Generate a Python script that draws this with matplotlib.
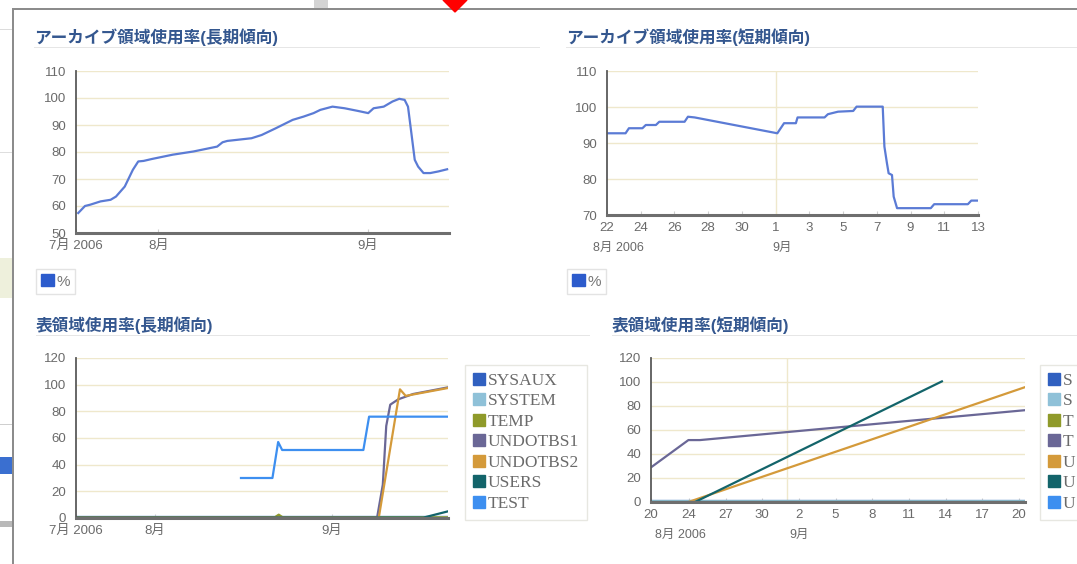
import matplotlib.pyplot as plt
from matplotlib.patches import Rectangle, Polygon, Patch
from matplotlib.transforms import blended_transform_factory

plt.rcParams['font.family'] = ['Liberation Sans', 'Noto Sans CJK JP']

W, H = 1077, 564

# x は 2006-07-01 からの日数 (8/1 = 31, 9/1 = 62)
# アーカイブ領域使用率（長期傾向）
arch_long_day = [19.1, 20.1, 20.9, 22.4, 23.9, 24.7, 26.0, 27.2, 28.0, 28.8, 30.0,
                 33.1, 36.2, 39.7, 40.5, 41.2, 44.8, 46.3, 48.4, 50.9, 52.5, 54.0,
                 55.0, 56.8, 58.6, 60.6, 62.1, 62.9, 64.4, 65.7, 66.7, 67.5, 68.0,
                 68.5, 69.0, 69.5, 70.3, 71.3, 72.5, 73.8]
arch_long_pct = [57.4, 60.0, 60.5, 61.7, 62.3, 63.5, 67.2, 73.4, 76.5, 76.7, 77.4,
                 79.0, 80.2, 82.0, 83.6, 84.1, 85.1, 86.3, 88.8, 91.9, 93.1, 94.4,
                 95.6, 96.8, 96.2, 95.2, 94.4, 96.2, 96.8, 98.7, 99.7, 99.3, 96.8,
                 87.0, 77.1, 74.6, 72.2, 72.2, 72.8, 73.6]

# アーカイブ領域使用率（短期傾向）
arch_short_day = [52.0, 53.1, 53.3, 54.1, 54.3, 54.9, 55.1, 56.6, 56.8, 57.2, 62.1,
                  62.3, 62.5, 63.2, 63.3, 64.9, 65.1, 65.7, 66.6, 66.8, 68.35, 68.45,
                  68.6, 68.7, 68.9, 69.0, 69.2, 71.2, 71.4, 73.4, 73.6, 74.0]
arch_short_pct = [92.7, 92.7, 94.1, 94.1, 95.0, 95.0, 95.9, 95.9, 97.3, 97.1, 92.7,
                  94.1, 95.5, 95.5, 97.1, 97.1, 98.0, 98.7, 98.9, 100.1, 100.1, 89.0,
                  84.4, 81.6, 81.1, 75.1, 71.9, 71.9, 73.0, 73.0, 74.0, 74.0]

ts_names = ['SYSAUX', 'SYSTEM', 'TEMP', 'UNDOTBS1', 'UNDOTBS2', 'USERS', 'TEST']
ts_colors = ['#3060c0', '#8fc1d8', '#8f9a2a', '#6a6796', '#d49a3a', '#13646a', '#3d8ff0']
# 右下の凡例は画面の端で切れていて頭文字しか見えない
ts_short_legend = ['S', 'S', 'T', 'T', 'U', 'U', 'U']

# 表領域使用率（長期傾向）
ts_long = {
    'SYSAUX':   ([17.25, 82.3], [1.0, 1.0]),
    'SYSTEM':   ([17.25, 82.3], [0.7, 0.7]),
    'TEMP':     ([17.25, 52.0, 52.7, 53.4, 82.3], [0.5, 0.5, 2.5, 0.5, 0.5]),
    'UNDOTBS1': ([17.25, 69.9, 70.9, 71.5, 72.2, 73.6, 76.2, 82.3],
                 [0.3, 0.3, 25, 69, 85, 89, 93, 98]),
    'UNDOTBS2': ([17.25, 70.2, 73.9, 74.9, 82.3], [0.3, 0.3, 96.5, 91.6, 97.5]),
    'USERS':    ([17.25, 78.0, 82.3], [0.3, 0.3, 5.0]),
    'TEST':     ([46.1, 51.6, 52.6, 53.3, 67.5, 68.5, 82.3],
                 [30, 30, 57, 51, 51, 76, 76]),
}

# 表領域使用率（短期傾向）
ts_short = {
    'SYSAUX':   ([50.9, 81.5], [0.9, 0.9]),
    'SYSTEM':   ([50.9, 81.5], [0.6, 0.6]),
    'TEMP':     ([50.9, 81.5], [0.4, 0.4]),
    'UNDOTBS1': ([50.96, 53.96, 54.9, 81.5], [29.3, 51.6, 51.6, 76.5]),
    'UNDOTBS2': ([53.96, 81.5], [0.0, 95.7]),
    'USERS':    ([54.5, 74.7], [0.0, 100.5]),
    'TEST':     ([50.9, 81.5], [0.2, 0.2]),
}

long_ticks_a = [18.77, 31, 62]
long_ticks_b = [17.25, 31, 62]
long_labels = ['7月 2006', '8月', '9月']
short_ticks_a = [52, 54, 56, 58, 60, 62, 64, 66, 68, 70, 72, 74]
short_labels_a = ['22', '24', '26', '28', '30', '1', '3', '5', '7', '9', '11', '13']
short_ticks_b = [50.9, 54, 57, 60, 63, 66, 69, 72, 75, 78, 81]
short_labels_b = ['20', '24', '27', '30', '2', '5', '8', '11', '14', '17', '20']

TITLE_C = '#34578f'
TICK_C = '#6a6a6a'
GRID_C = '#efe8cc'

fig = plt.figure(figsize=(W / 100, H / 100), dpi=100)


def px_axes(x0, y0, x1, y1):
    return fig.add_axes([x0 / W, 1 - y1 / H, (x1 - x0) / W, (y1 - y0) / H])


def px_rect(x0, y0, x1, y1, color, z=0):
    fig.add_artist(Rectangle((x0 / W, 1 - y1 / H), (x1 - x0) / W, (y1 - y0) / H,
                             transform=fig.transFigure, color=color, lw=0, zorder=z))


def style_axes(ax, yticks, xticks, xlabels, xlim, xsize):
    ax.set_xlim(*xlim)
    ax.set_ylim(yticks[0], yticks[-1])
    ax.set_yticks(yticks)
    ax.set_xticks(xticks)
    ax.set_xticklabels(xlabels)
    ax.grid(axis='y', color=GRID_C, lw=1)
    ax.set_axisbelow(True)
    for s in ['top', 'right']:
        ax.spines[s].set_visible(False)
    ax.spines['left'].set_color('#5a5a5a')
    ax.spines['left'].set_linewidth(1.3)
    ax.spines['bottom'].set_color('#6e6e6e')
    ax.spines['bottom'].set_linewidth(2.2)
    ax.tick_params(axis='y', length=0, pad=7, labelsize=9.5, labelcolor=TICK_C)
    ax.tick_params(axis='x', length=3, direction='in', color='#cfcfcf', pad=5,
                   labelsize=xsize, labelcolor=TICK_C)


def title(x, y, text, x_end):
    fig.text(x / W, 1 - y / H, text, color=TITLE_C, fontsize=12, fontweight='bold',
             va='center', ha='left')
    px_rect(x, y + 10, x_end, y + 11, '#e6e6e6')


def pct_legend(ax, x, y):
    ax.legend(handles=[Patch(color='#2c5bcc')], labels=['%'], loc='upper left',
              bbox_to_anchor=(x / W, 1 - y / H), bbox_transform=fig.transFigure,
              borderaxespad=0, fancybox=False, edgecolor='#dcdcdc', fontsize=11,
              handlelength=0.8, handleheight=0.8, handletextpad=0.2,
              borderpad=0.35, labelcolor='#777777')


def ts_legend(ax, x, y, labels, width=None):
    hs = [Patch(color=c) for c in ts_colors]
    kw = {}
    if width is not None:
        kw = dict(mode='expand')
        anchor = (x / W, 1 - y / H - 0.3, width / W, 0.3)
    else:
        anchor = (x / W, 1 - y / H)
    ax.legend(handles=hs, labels=labels, loc='upper left',
              bbox_to_anchor=anchor, bbox_transform=fig.transFigure,
              borderaxespad=0, fancybox=False, edgecolor='#e2e2da',
              prop={'family': 'Liberation Serif', 'size': 12.5},
              handlelength=0.7, handleheight=0.7, handletextpad=0.15,
              labelspacing=0.25, borderpad=0.45, labelcolor='#6a6a6a', **kw)


# 背景（ウィンドウ枠など）
px_rect(0, 29, 12, 30, '#dcdcdc')
px_rect(0, 152, 12, 153, '#dedede')
px_rect(0, 258, 12, 298, '#eef0dc')
px_rect(0, 424, 12, 425, '#cfcfcf')
px_rect(0, 457, 12, 474, '#3a6fd0')
px_rect(0, 521, 12, 527, '#b9b9b9')
px_rect(314, 0, 328, 8, '#d4d4d4')
px_rect(12, 8, W, 10, '#8c8c8c', z=2)
px_rect(12, 8, 14, H, '#8c8c8c', z=2)
fig.add_artist(Polygon([(443 / W, 1), (467 / W, 1), (455 / W, 1 - 12 / H)],
                       closed=True, transform=fig.transFigure, color='#ff0000', zorder=3))

# 上段左：長期
ax1 = px_axes(76, 71, 449, 233)
ax1.plot(arch_long_day, arch_long_pct, color='#5b7bd5', lw=1.6)
style_axes(ax1, list(range(50, 111, 10)), long_ticks_a, long_labels, (18.77, 74.08), 9.5)
title(34, 37, 'アーカイブ領域使用率(長期傾向)', 540)
pct_legend(ax1, 36, 269)

# 上段右：短期
ax2 = px_axes(607, 71, 978, 215)
ax2.axvline(62, color=GRID_C, lw=1)
ax2.plot(arch_short_day, arch_short_pct, color='#5b7bd5', lw=1.6)
style_axes(ax2, list(range(70, 111, 10)), short_ticks_a, short_labels_a, (52, 74), 9.5)
tr2 = blended_transform_factory(ax2.transData, ax2.transAxes)
ax2.text(52.65, -0.23, '8月 2006', transform=tr2, ha='center', va='center',
         fontsize=9, color=TICK_C)
ax2.text(62.4, -0.23, '9月', transform=tr2, ha='center', va='center',
         fontsize=9, color=TICK_C)
title(566, 37, 'アーカイブ領域使用率(短期傾向)', W)
pct_legend(ax2, 567, 269)

# 下段左：表領域 長期
ax3 = px_axes(76, 358, 448, 518)
for name, c in zip(ts_names, ts_colors):
    d, v = ts_long[name]
    ax3.plot(d, v, color=c, lw=1.6)
style_axes(ax3, list(range(0, 121, 20)), long_ticks_b, long_labels, (17.25, 82.3), 9.5)
title(36, 325, '表領域使用率(長期傾向)', 590)
ts_legend(ax3, 465, 365, ts_names)

# 下段右：表領域 短期
ax4 = px_axes(651, 358, 1025, 502)
ax4.axvline(62, color=GRID_C, lw=1)
for name, c in zip(ts_names, ts_colors):
    d, v = ts_short[name]
    ax4.plot(d, v, color=c, lw=1.6)
style_axes(ax4, list(range(0, 121, 20)), short_ticks_b, short_labels_b, (50.9, 81.5), 9.5)
tr4 = blended_transform_factory(ax4.transData, ax4.transAxes)
ax4.text(53.3, -0.23, '8月 2006', transform=tr4, ha='center', va='center',
         fontsize=9, color=TICK_C)
ax4.text(63.0, -0.23, '9月', transform=tr4, ha='center', va='center',
         fontsize=9, color=TICK_C)
title(612, 325, '表領域使用率(短期傾向)', W)
ts_legend(ax4, 1040, 365, ts_short_legend, width=120)

fig.savefig('out.png', dpi=100)
